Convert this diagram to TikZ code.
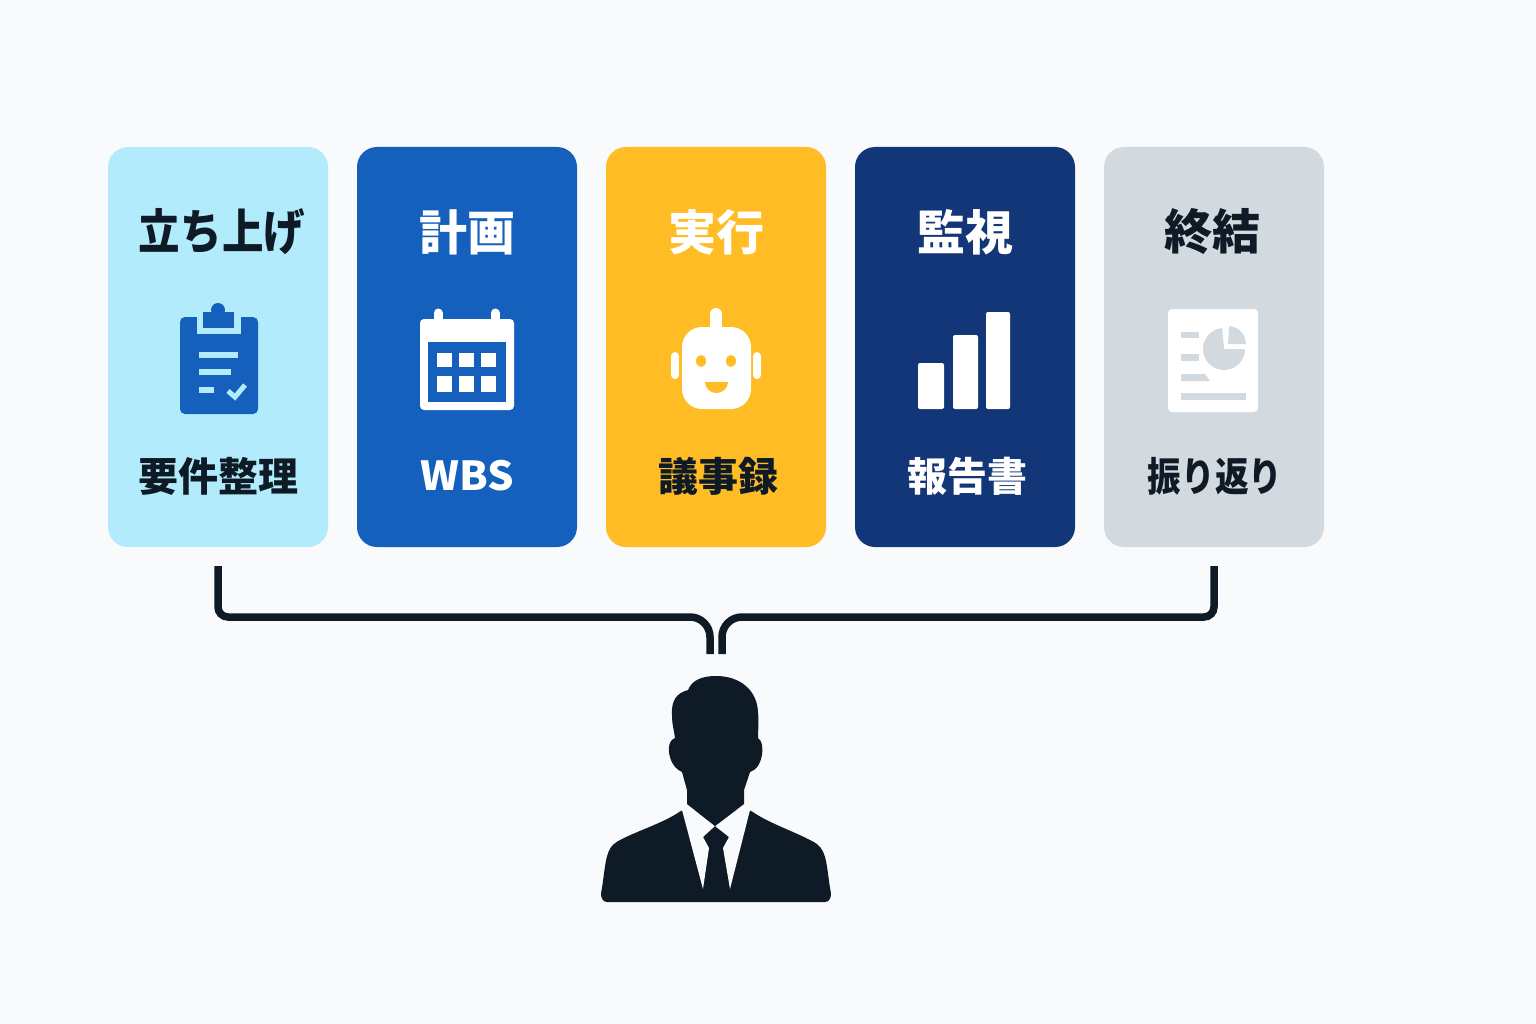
\documentclass[tikz,border=0pt]{standalone}
\usepackage{fontspec}
\setmainfont{Noto Sans CJK JP}
\usetikzlibrary{positioning}
\usetikzlibrary{calc}

\definecolor{pagebg}{HTML}{F8FAFC}
\definecolor{inkdark}{HTML}{0E1A26}
\definecolor{cardsky}{HTML}{B2ECFC}
\definecolor{cardblue}{HTML}{1560BD}
\definecolor{cardamber}{HTML}{FFBC24}
\definecolor{cardnavy}{HTML}{133678}
\definecolor{cardgrey}{HTML}{D3DADF}

\tikzset{
  card/.style={rounded corners=20pt, minimum width=220pt, minimum height=400pt,
    inner sep=0pt, outer sep=0pt},
  titletext/.style={font=\bfseries\fontsize{48}{48}\selectfont, inner sep=0pt},
  subtext/.style={font=\bfseries\fontsize{40}{40}\selectfont, inner sep=0pt},
  wire/.style={draw=inkdark, line width=7.5pt},
}

\begin{document}
\begin{tikzpicture}[x=1pt,y=-1pt]
    \fill[pagebg] (0,0) rectangle (1536,1024);

    % cards
    \node[card,fill=cardsky] (initcard) at (218,347) {};
    \node[card,fill=cardblue,right=29pt of initcard] (plancard) {};
    \node[card,fill=cardamber,right=29pt of plancard] (runcard) {};
    \node[card,fill=cardnavy,right=29pt of runcard] (watchcard) {};
    \node[card,fill=cardgrey,right=29pt of watchcard] (closecard) {};

    % titles
    \node[titletext,text=inkdark,below=85pt of initcard.north,anchor=center,xshift=4pt] (inittitle) {\scalebox{0.865}[1]{立ち上げ}};
    \node[titletext,text=white,below=85pt of plancard.north,anchor=center] (plantitle) {計画};
    \node[titletext,text=white,below=85pt of runcard.north,anchor=center] (runtitle) {実行};
    \node[titletext,text=white,below=85pt of watchcard.north,anchor=center] (watchtitle) {監視};
    \node[titletext,text=inkdark,below=85pt of closecard.north,anchor=center,xshift=-2pt] (closetitle) {終結};

    % bottom labels
    \node[subtext,text=inkdark,above=71pt of initcard.south,anchor=center] (initsub) {要件整理};
    \node[subtext,text=white,above=71pt of plancard.south,anchor=center] (plansub) {\scalebox{1.04}[1]{WBS}};
    \node[subtext,text=inkdark,above=71pt of runcard.south,anchor=center,xshift=2pt] (runsub) {議事録};
    \node[subtext,text=white,above=71pt of watchcard.south,anchor=center,xshift=2pt] (watchsub) {報告書};
    \node[subtext,text=inkdark,above=71pt of closecard.south,anchor=center,xshift=1pt] (closesub) {\scalebox{0.84}[1]{振り返り}};

    % clipboard
    \fill[cardblue,rounded corners=5pt] (180,317) rectangle (258,414);
    \fill[cardsky] (197,316) rectangle (241,334);
    \fill[cardblue] (203,312) rectangle (234,328);
    \fill[cardblue] (218,310) circle (7);
    \fill[cardsky] (199,352) rectangle (238,358);
    \fill[cardsky] (199,369) rectangle (231,375);
    \fill[cardsky] (199,387) rectangle (214,393);
    \draw[cardsky,line width=5pt] (228,391) -- (235,397) -- (245,385);

    % calendar
    \draw[white,line width=9pt,line cap=round] (438,313) -- (438,330);
    \draw[white,line width=9pt,line cap=round] (495,313) -- (495,330);
    \fill[white,rounded corners=4pt] (420,319) rectangle (514,410);
    \fill[cardblue] (428,342) rectangle (506,402);
    \foreach \cx in {437,459,481} {
      \fill[white] (\cx,353) rectangle ++(15,14);
      \fill[white] (\cx,376) rectangle ++(15,16);
    }

    % robot
    \draw[white,line width=12pt,line cap=round] (716,314) -- (716,332);
    \fill[white,rounded corners=4pt] (671,352) rectangle (679,379);
    \fill[white,rounded corners=4pt] (753,352) rectangle (761,379);
    \fill[cardamber] (679,345) rectangle (682,385);
    \fill[cardamber] (751,345) rectangle (753,385);
    \fill[white,rounded corners=20pt] (682,327) rectangle (751,409);
    \fill[cardamber] (701,361) ellipse (5 and 6);
    \fill[cardamber] (731,361) ellipse (5 and 6);
    \fill[cardamber] (728,382) arc[start angle=0,end angle=180,x radius=11.5,y radius=11] -- cycle;

    % bar chart
    \fill[white,rounded corners=2pt] (918,363) rectangle (944,409);
    \fill[white,rounded corners=2pt] (953,335) rectangle (978,409);
    \fill[white,rounded corners=2pt] (986,312) rectangle (1010,409);

    % report sheet
    \fill[white,rounded corners=4pt] (1168,309) rectangle (1258,412);
    \fill[cardgrey] (1181,332) rectangle (1199,338);
    \fill[cardgrey] (1181,354) rectangle (1199,361);
    \fill[cardgrey] (1181,374) -- (1205,374) -- (1210,381) -- (1181,381) -- cycle;
    \fill[cardgrey] (1181,393) rectangle (1246,400);
    \fill[cardgrey] (1224,349) -- (1245,349) arc[start angle=0,end angle=265,radius=21] -- cycle;
    \fill[cardgrey] (1228,344) -- (1246,344) arc[start angle=0,end angle=-86,radius=18] -- cycle;

    % person
    \fill[inkdark,rounded corners=3pt] (682,810) .. controls (665,822) and (640,830) .. (620,840)
      .. controls (606,848) and (606,860) .. (602,888) .. controls (600,898) and (603,902) .. (610,902)
      -- (822,902) .. controls (829,902) and (832,898) .. (830,888)
      .. controls (826,860) and (826,848) .. (810,840)
      .. controls (790,830) and (767,822) .. (750,810) -- cycle;
    \fill[pagebg] (682,810) -- (687,804) -- (715,826) -- (703,837) -- (709,848) -- (703,889) -- cycle;
    \fill[pagebg] (750,810) -- (744,804) -- (715,826) -- (729,837) -- (723,848) -- (730,889) -- cycle;
    \fill[inkdark] (716,676) .. controls (702,676) and (692,680) .. (688,690)
      .. controls (677,693) and (671,700) .. (672,715) .. controls (672,725) and (674,730) .. (675,738)
      .. controls (668,741) and (668,750) .. (670,757) .. controls (672,765) and (677,770) .. (682,772)
      -- (687,790) -- (687,804) -- (715,826) -- (744,804) -- (744,790) -- (750,772)
      .. controls (756,770) and (760,765) .. (762,755) .. controls (763,746) and (762,741) .. (758,738)
      .. controls (758,730) and (759,722) .. (758,712) .. controls (757,690) and (740,676) .. (716,676) -- cycle;

    % connector
    \coordinate (wireleft) at (710,654);
    \coordinate (wireright) at (722,654);
    \draw[wire] ([yshift=-19pt]initcard.south) -- (218,607) arc[start angle=180,end angle=90,radius=10]
      -- (690,617) arc[start angle=-90,end angle=0,radius=20] -- (wireleft);
    \draw[wire] ([yshift=-19pt]closecard.south) -- (1214,607) arc[start angle=0,end angle=90,radius=10]
      -- (742,617) arc[start angle=-90,end angle=-180,radius=20] -- (wireright);
\end{tikzpicture}
\end{document}
